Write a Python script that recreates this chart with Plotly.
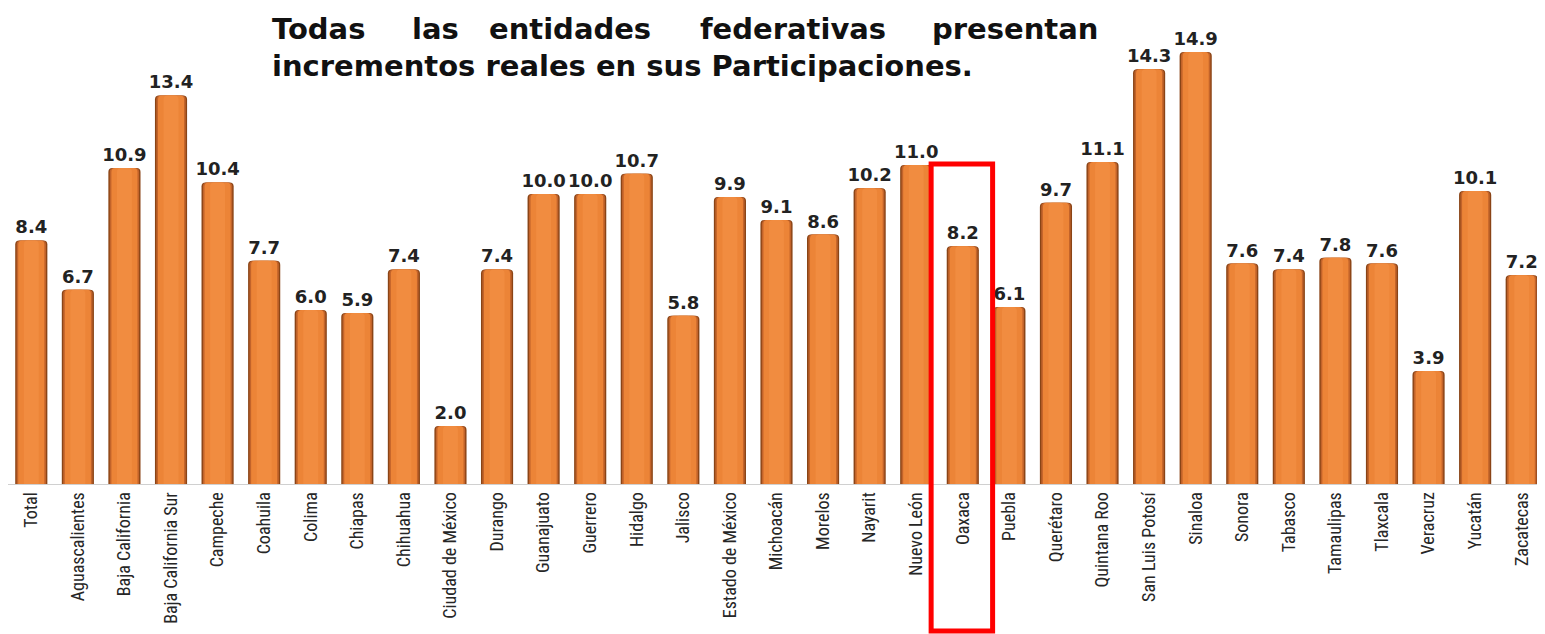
import plotly.graph_objects as go

estados = [
    "Total", "Aguascalientes", "Baja California", "Baja California Sur", "Campeche",
    "Coahuila", "Colima", "Chiapas", "Chihuahua", "Ciudad de México", "Durango",
    "Guanajuato", "Guerrero", "Hidalgo", "Jalisco", "Estado de México", "Michoacán",
    "Morelos", "Nayarit", "Nuevo León", "Oaxaca", "Puebla", "Querétaro",
    "Quintana Roo", "San Luis Potosí", "Sinaloa", "Sonora", "Tabasco", "Tamaulipas",
    "Tlaxcala", "Veracruz", "Yucatán", "Zacatecas",
]
crecimiento = [
    8.4, 6.7, 10.9, 13.4, 10.4, 7.7, 6.0, 5.9, 7.4, 2.0, 7.4, 10.0, 10.0, 10.7,
    5.8, 9.9, 9.1, 8.6, 10.2, 11.0, 8.2, 6.1, 9.7, 11.1, 14.3, 14.9, 7.6, 7.4,
    7.8, 7.6, 3.9, 10.1, 7.2,
]
titulo_l1 = ["Todas", "las", "entidades", "federativas", "presentan"]
titulo_l2 = "incrementos reales en sus Participaciones."
resaltado = "Oaxaca"

# page body has an 8px margin, so the figure is drawn 8px in from the window edge
OFF = 8
W, H = 1545 - OFF, 634 - OFF
ML, MR, MT, MB = 0, 0, 20 - OFF, 634 - 484
pw, ph = W - ML - MR, H - MT - MB


def px_x(x):  # window pixel -> paper x
    return (x - OFF - ML) / pw


def px_y(y):  # window pixel -> paper y
    return (484 - y) / ph


fig = go.Figure()

# cylinder look: stacked overlay bars, dark edges -> orange body
capas = [
    (0.69, "#8A4416"),
    (0.63, "#C2632A"),
    (0.56, "#EC8437"),
    (0.32, "#F18C40"),
]
for i, (w, c) in enumerate(capas):
    fig.add_trace(go.Bar(
        x=estados, y=crecimiento,
        width=w,
        marker=dict(color=c, line=dict(width=0), cornerradius=4),
        text=[f"{v:.1f}" for v in crecimiento] if i == 0 else None,
        textposition="outside" if i == 0 else "none",
        constraintext="none",
        textfont=dict(family="DejaVu Sans", size=18, color="#222222", weight="bold"),
        cliponaxis=False,
        showlegend=False,
    ))

# title, first line justified word by word
TFONT = dict(family="DejaVu Sans", size=29, color="#111111")
xs = [270, 410, 487, 698, 930]
for palabra, x in zip(titulo_l1, xs):
    fig.add_annotation(
        x=px_x(x), y=px_y(29), xref="paper", yref="paper",
        xanchor="left", yanchor="middle", showarrow=False,
        text=f"<b>{palabra}</b>", font=TFONT,
    )
fig.add_annotation(
    x=px_x(270), y=px_y(66), xref="paper", yref="paper",
    xanchor="left", yanchor="middle", showarrow=False,
    text=f"<b>{titulo_l2}</b>", font=TFONT,
)

# red box around the highlighted state
idx = estados.index(resaltado)
fig.add_shape(
    type="rect", xref="x", yref="paper",
    x0=idx - 0.68, x1=idx + 0.64,
    y0=px_y(631), y1=px_y(164),
    line=dict(color="#FF0000", width=5), fillcolor="rgba(0,0,0,0)",
    layer="above",
)

fig.update_layout(
    width=W, height=H,
    margin=dict(l=ML, r=MR, t=MT, b=MB, autoexpand=False),
    paper_bgcolor="white", plot_bgcolor="white",
    barmode="overlay",
    xaxis=dict(
        tickangle=-90,
        tickfont=dict(family="Liberation Sans Narrow, Roboto Condensed, Roboto", size=18, color="#262626"),
        showline=True, linecolor="#D0D0D0", linewidth=1,
        ticks="", showgrid=False, automargin=False,
    ),
    yaxis=dict(range=[0, (484 - 20) / 29.0], visible=False, showgrid=False),
    hovermode=False,
)

fig.write_html("out.html")
